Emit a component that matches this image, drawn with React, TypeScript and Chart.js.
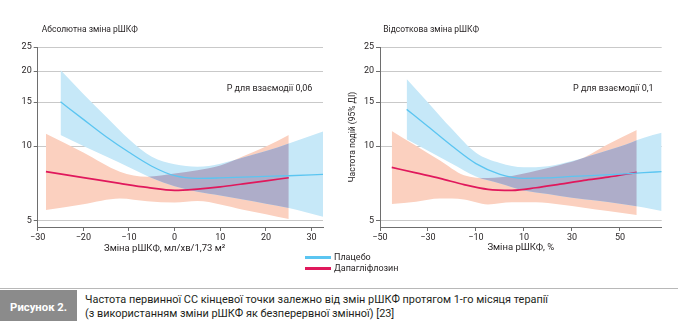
import React, { useEffect, useRef } from 'react';
import { Chart, registerables } from 'chart.js';

Chart.register(...registerables);

const FONT = 'Roboto, "Noto Sans", "DejaVu Sans", sans-serif';
const TEXT = '#231f20';
const AXIS = '#6e6e6e';
const GRID = '#c9c9c9';
const BLUE = '#5bc5f1';
const RED = '#e0185c';
const BLUE_BAND = '#c6e8f8';
const PEACH = '#fbd0bf';
const OVERLAP = '#aeadc9';

// ---- shared axis ticks ----
const yTickValues = [5, 10, 15, 20, 25];
const absXTicks = [-30, -20, -10, 0, 10, 20, 30];
const pctXTicks = [-50, -30, -10, 10, 30, 50];

// ---- Panel 1: absolute change of eGFR (ml/min/1.73 m²) ----
const absPlaceboX = [-25, -20, -15, -10, -5, 0, 5, 10, 15, 20, 25, 32.5];
const absPlaceboLine = [15.06, 12.8, 10.9, 9.44, 8.3, 7.6, 7.42, 7.45, 7.5, 7.55, 7.6, 7.7];
const absPlaceboUpper = [20.2, 16.2, 13.1, 10.65, 9.05, 8.45, 8.26, 8.5, 9.0, 9.55, 10.25, 11.45];
const absPlaceboLower = [11.07, 10.0, 9.07, 8.22, 7.44, 6.9, 6.55, 6.33, 6.1, 5.87, 5.64, 5.2];

const absDapaX = [-28.2, -20, -12, -6, 0, 5, 10, 15, 20, 25];
const absDapaLine = [7.89, 7.47, 7.08, 6.82, 6.64, 6.72, 6.86, 7.05, 7.25, 7.46];
const absDapaUpper = [11.2, 9.42, 7.89, 7.53, 7.75, 8.0, 8.35, 9.1, 9.95, 11.07];
const absDapaLower = [5.53, 5.84, 6.16, 6.0, 5.93, 6.01, 5.83, 5.55, 5.32, 5.09];

// ---- Panel 2: percent change of eGFR ----
const pctPlaceboX = [-38.9, -30, -20, -10, 0, 10, 20, 30, 40, 50, 60, 67.4];
const pctPlaceboLine = [14.04, 11.98, 10.0, 8.5, 7.7, 7.42, 7.45, 7.55, 7.63, 7.72, 7.82, 7.89];
const pctPlaceboUpper = [18.6, 14.96, 11.7, 9.4, 8.55, 8.22, 8.3, 8.7, 9.3, 9.95, 10.8, 11.3];
const pctPlaceboLower = [10.64, 9.58, 8.5, 7.55, 7.08, 6.63, 6.42, 6.2, 6.04, 5.87, 5.66, 5.48];

const pctDapaX = [-45.1, -35, -25, -15, -5, 5, 15, 25, 35, 45, 57];
const pctDapaLine = [8.21, 7.8, 7.42, 7.0, 6.7, 6.64, 6.8, 7.03, 7.28, 7.5, 7.84];
const pctDapaUpper = [11.5, 10.03, 8.75, 7.64, 7.45, 7.58, 7.95, 8.4, 9.0, 10.16, 11.6];
const pctDapaLower = [5.85, 5.98, 6.15, 6.1, 5.83, 5.95, 5.95, 5.82, 5.65, 5.48, 5.28];

const fmtTick = (v: number) => (v < 0 ? '\u2212' + Math.abs(v) : String(v));

// Draws the intersection of the two confidence bands in its own colour
const overlapPlugin = {
  id: 'overlap',
  beforeDatasetDraw(chart: any, args: any, opts: any) {
    if (args.index !== 1) return;
    const ctx = chart.ctx;
    const a = chart.chartArea;
    ctx.save();
    ctx.beginPath();
    ctx.rect(a.left, a.top, a.right - a.left, a.bottom - a.top);
    ctx.clip();
    const pairs = [
      [2, 3],
      [4, 5],
    ];
    for (const [u, l] of pairs) {
      const up = chart.getDatasetMeta(u);
      const lo = chart.getDatasetMeta(l);
      const up0 = up.data[0];
      const upN = up.data[up.data.length - 1];
      ctx.beginPath();
      up.dataset.path(ctx);
      ctx.lineTo(upN.x, a.bottom + 20);
      ctx.lineTo(up0.x, a.bottom + 20);
      ctx.closePath();
      ctx.clip();
      const lo0 = lo.data[0];
      const loN = lo.data[lo.data.length - 1];
      ctx.beginPath();
      lo.dataset.path(ctx);
      ctx.lineTo(loN.x, a.top - 20);
      ctx.lineTo(lo0.x, a.top - 20);
      ctx.closePath();
      ctx.clip();
    }
    ctx.fillStyle = opts.color || OVERLAP;
    ctx.fillRect(a.left, a.top, a.right - a.left, a.bottom - a.top);
    ctx.restore();
  },
};

type PanelProps = {
  width: number;
  height: number;
  xMin: number;
  xMax: number;
  xTicks: number[];
  yAxisWidth: number;
  padRight: number;
  xTitle?: string;
  yTitle?: string;
  placeboX: number[];
  placeboLine: number[];
  placeboUpper: number[];
  placeboLower: number[];
  dapaX: number[];
  dapaLine: number[];
  dapaUpper: number[];
  dapaLower: number[];
};

function Panel(p: PanelProps) {
  const ref = useRef<HTMLCanvasElement | null>(null);
  useEffect(() => {
    if (!ref.current) return;
    const pts = (xs: number[], ys: number[]) => xs.map((x, i) => ({ x, y: ys[i] }));
    const lineDs = (label: string, data: any[], color: string, w: number) => ({
      label,
      data,
      borderColor: color,
      backgroundColor: color,
      borderWidth: w,
      pointRadius: 0,
      fill: false,
      cubicInterpolationMode: 'monotone',
    });
    const bandDs = (label: string, data: any[], fill: any, color: string) => ({
      label,
      data,
      borderColor: 'transparent',
      borderWidth: 0,
      backgroundColor: color,
      pointRadius: 0,
      fill,
      cubicInterpolationMode: 'monotone',
    });
    const chart = new Chart(ref.current, {
      type: 'line',
      data: {
        datasets: [
          lineDs('Плацебо', pts(p.placeboX, p.placeboLine), BLUE, 1.3),
          lineDs('Дапагліфлозин', pts(p.dapaX, p.dapaLine), RED, 1.7),
          bandDs('Плацебо, верхня межа 95% ДІ', pts(p.placeboX, p.placeboUpper), '+1', BLUE_BAND),
          bandDs('Плацебо, нижня межа 95% ДІ', pts(p.placeboX, p.placeboLower), false, BLUE_BAND),
          bandDs('Дапагліфлозин, верхня межа 95% ДІ', pts(p.dapaX, p.dapaUpper), '+1', PEACH),
          bandDs('Дапагліфлозин, нижня межа 95% ДІ', pts(p.dapaX, p.dapaLower), false, PEACH),
        ] as any,
      },
      options: {
        animation: false,
        responsive: false,
        maintainAspectRatio: false,
        layout: { padding: { top: 47, right: p.padRight, left: 0, bottom: 0 } },
        plugins: {
          legend: { display: false },
          tooltip: { enabled: false },
          title: { display: false },
          overlap: { color: OVERLAP },
        } as any,
        scales: {
          x: {
            type: 'linear',
            min: p.xMin,
            max: p.xMax,
            z: 1,
            afterBuildTicks: (s: any) => {
              s.ticks = p.xTicks.map((v) => ({ value: v }));
            },
            afterFit: (s: any) => {
              s.height = p.height - 227;
            },
            ticks: {
              callback: (v: any) => fmtTick(Number(v)),
              font: { family: FONT, size: 9 },
              color: TEXT,
              padding: 1,
              maxRotation: 0,
              autoSkip: false,
            },
            grid: { display: true, drawOnChartArea: false, drawTicks: true, tickLength: 4, tickColor: AXIS },
            border: { display: true, color: AXIS, width: 1 },
            title: p.xTitle
              ? {
                  display: true,
                  text: p.xTitle,
                  color: TEXT,
                  font: { family: FONT, size: 9.5 },
                  padding: { top: 0, bottom: 6.3 },
                }
              : { display: false },
          },
          y: {
            type: 'logarithmic',
            min: 4.73,
            max: 25,
            z: 1,
            afterBuildTicks: (s: any) => {
              s.ticks = yTickValues.map((v) => ({ value: v }));
            },
            afterFit: (s: any) => {
              s.width = p.yAxisWidth;
            },
            ticks: {
              callback: (v: any) => String(v),
              font: { family: FONT, size: 9 },
              color: TEXT,
              padding: 2,
              autoSkip: false,
            },
            grid: { display: true, drawOnChartArea: true, color: GRID, lineWidth: 1, tickLength: 4, tickColor: AXIS },
            border: { display: true, color: AXIS, width: 1 },
            title: p.yTitle
              ? {
                  display: true,
                  text: p.yTitle,
                  color: TEXT,
                  font: { family: FONT, size: 8.5 },
                  padding: { top: 12.9, bottom: 0 },
                }
              : { display: false },
          },
        } as any,
      },
      plugins: [overlapPlugin as any],
    });
    return () => chart.destroy();
  }, []);
  return (
    <canvas
      ref={ref}
      width={p.width}
      height={p.height}
      style={{ width: p.width, height: p.height, display: 'block' }}
    />
  );
}

const T = (props: { x: number; cy: number; size: number; children: any; center?: boolean; bold?: boolean; color?: string }) => (
  <div
    style={{
      position: 'absolute',
      left: props.x,
      top: props.cy - 7,
      height: 14,
      lineHeight: '14px',
      fontSize: props.size,
      fontFamily: FONT,
      fontWeight: props.bold ? 700 : 400,
      color: props.color || TEXT,
      whiteSpace: 'nowrap',
      transform: props.center ? 'translateX(-50%)' : undefined,
    }}
  >
    {props.children}
  </div>
);

export default function App() {
  return (
    <div
      style={{
        position: 'absolute',
        left: 0,
        top: 0,
        width: 678,
        height: 321,
        background: '#ffffff',
        overflow: 'hidden',
      }}
    >
      <div style={{ position: 'absolute', left: 0, top: 0 }}>
        <Panel
          width={335}
          height={260}
          xMin={-30}
          xMax={32.5}
          xTicks={absXTicks}
          yAxisWidth={37.7}
          padRight={12}
          placeboX={absPlaceboX}
          placeboLine={absPlaceboLine}
          placeboUpper={absPlaceboUpper}
          placeboLower={absPlaceboLower}
          dapaX={absDapaX}
          dapaLine={absDapaLine}
          dapaUpper={absDapaUpper}
          dapaLower={absDapaLower}
        />
      </div>
      <div style={{ position: 'absolute', left: 335, top: 0 }}>
        <Panel
          width={343}
          height={260}
          xMin={-50}
          xMax={67.4}
          xTicks={pctXTicks}
          yAxisWidth={45}
          padRight={16.3}
          xTitle="Зміна рШКФ, %"
          yTitle="Частота подій (95% ДІ)"
          placeboX={pctPlaceboX}
          placeboLine={pctPlaceboLine}
          placeboUpper={pctPlaceboUpper}
          placeboLower={pctPlaceboLower}
          dapaX={pctDapaX}
          dapaLine={pctDapaLine}
          dapaUpper={pctDapaUpper}
          dapaLower={pctDapaLower}
        />
      </div>

      <T x={41.7} cy={29} size={8.5}>Абсолютна зміна рШКФ</T>
      <T x={383.3} cy={29} size={8.5}>Відсоткова зміна рШКФ</T>
      <T x={226.7} cy={88.3} size={9}>P для взаємодії 0,06</T>
      <T x={573} cy={88.3} size={9}>P для взаємодії 0,1</T>
      <T x={164.7} cy={248} size={9.5} center>
        Зміна рШКФ, мл/хв/1,73 м²
      </T>

      <div style={{ position: 'absolute', left: 305, top: 256, width: 26, height: 2.5, background: BLUE }} />
      <div style={{ position: 'absolute', left: 305, top: 267, width: 26, height: 2.5, background: RED }} />
      <T x={334} cy={257} size={9}>Плацебо</T>
      <T x={334} cy={268.3} size={9}>Дапагліфлозин</T>

      <div style={{ position: 'absolute', left: 0, top: 287.5, width: 678, height: 1.5, background: '#b8b8b8' }} />
      <div
        style={{
          position: 'absolute',
          left: 0,
          top: 290,
          width: 77.3,
          height: 31,
          background: '#8b8b8b',
        }}
      />
      <T x={38.6} cy={307.5} size={11.3} bold center color="#ffffff">
        Рисунок 2.
      </T>
      <T x={85} cy={300} size={10.9}>
        Частота первинної СС кінцевої точки залежно від змін рШКФ протягом 1-го місяця терапії
      </T>
      <T x={85} cy={314} size={10.9}>
        (з використанням зміни рШКФ як безперервної змінної) [23]
      </T>
    </div>
  );
}
